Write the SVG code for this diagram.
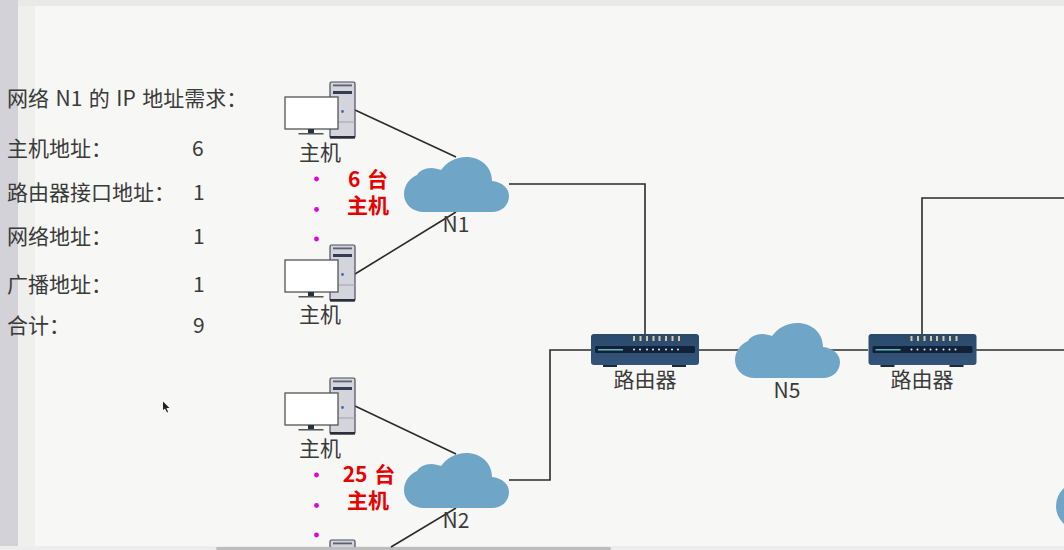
<svg xmlns="http://www.w3.org/2000/svg" xmlns:xlink="http://www.w3.org/1999/xlink" width="1064" height="550" viewBox="0 0 1064 550">
<style>
text{font-family:"Noto Sans CJK SC","Noto Sans",sans-serif;fill:#3a3a3a;font-size:21px}
.lab{text-anchor:middle}
.wide{word-spacing:1.800px}
.red{fill:#e60000;font-weight:700;text-anchor:middle;word-spacing:2px}
.conn{fill:none;stroke:#2b2b2b;stroke-width:1.6}
.cloud{fill:#6fa6c8}
</style>
<defs>
<linearGradient id="routerFill" x1="0" y1="0" x2="0" y2="1"><stop offset="0" stop-color="#2a4a6b"/><stop offset="1" stop-color="#34537a"/></linearGradient>
<path id="cloudShape" class="cloud" d="M424 212C412 212 404 204 404 194C404 185 410 178 417 175C419 171 425 168 431 168C435 168 438 169 441 170C447 162 456 157 466 157C481 157 492 167 492 181C502 182 509 188 509 196C509 205 502 212 492 212Z"/>
<g id="hostShape">
<rect x="330" y="82" width="25" height="56" rx="1.5" fill="#d3d4dc" stroke="#4a4f5c" stroke-width="1.2"/>
<rect x="330" y="136" width="25" height="2.5" fill="#2a2f3a"/>
<rect x="333" y="84.500" width="19" height="1.800" fill="#5b6170"/>
<rect x="333" y="91" width="19" height="3" fill="#343d52"/>
<line x1="330" y1="122" x2="355" y2="122" stroke="#a0a2ab" stroke-width="1"/>
<circle cx="342.500" cy="111.500" r="1.400" fill="#3a6cb5"/>
<rect x="285" y="97" width="53" height="32" fill="#fff" stroke="#555" stroke-width="1.300"/>
<rect x="308" y="129" width="6" height="4" fill="#263240"/>
<rect x="298.500" y="133" width="25" height="1.500" fill="#555"/>
</g>
<g id="routerShape">
<rect x="591" y="334" width="108" height="31" rx="3" fill="url(#routerFill)"/>
<rect x="603" y="365" width="14" height="2" fill="#1d2a3a"/>
<rect x="672" y="365" width="14" height="2" fill="#1d2a3a"/>
<rect x="595" y="346" width="100" height="7" rx="1.500" fill="#0f2238"/>
<rect x="598" y="349" width="25" height="1.500" fill="#6fb3b8"/>
<g fill="#e8e8e8"><circle cx="634" cy="349.500" r="1"/><circle cx="640" cy="349.500" r="1"/><circle cx="647" cy="349.500" r="1"/><circle cx="653" cy="349.500" r="1"/><circle cx="659" cy="349.500" r="1"/><circle cx="666" cy="349.500" r="1"/><circle cx="672" cy="349.500" r="1"/><circle cx="678" cy="349.500" r="1"/></g>
<g fill="#d9c7a5"><rect x="633" y="336" width="2" height="5"/><rect x="639.500" y="336" width="2" height="5"/><rect x="646" y="336" width="2" height="5"/><rect x="652.500" y="336" width="2" height="5"/><rect x="658.500" y="336" width="2" height="5"/><rect x="665" y="336" width="2" height="5"/><rect x="671.500" y="336" width="2" height="5"/><rect x="678" y="336" width="2" height="5"/></g>
</g>
</defs>
<rect width="1064" height="550" fill="#f7f7f5"/>
<rect width="1064" height="6" fill="#e9e9e8"/>
<rect x="18" y="6" width="17" height="544" fill="#efefee"/>
<rect width="18" height="550" fill="#d2d2d8"/>
<rect y="546" width="1064" height="4" fill="#ededed"/>
<rect x="216" y="547" width="395" height="3" rx="1.500" fill="#bdbdbd"/>
<g id="connectors" class="conn">
<path d="M355 110L456 157"/>
<path d="M355 274L456 212"/>
<path d="M509 184H645V334"/>
<path d="M355 406L456 454"/>
<path d="M391 547L456 508"/>
<path d="M509 480H550V350H591"/>
<path d="M699 350H868"/>
<path d="M922 334V198H1064"/>
<path d="M976 350H1064"/>
</g>
<g id="requirements">
<text class="wide" x="7" y="106">网络 N1 的 IP 地址需求：</text>
<text x="7" y="156">主机地址：</text><text x="192" y="156">6</text>
<text x="7" y="200">路由器接口地址：</text><text x="193" y="200">1</text>
<text x="7" y="244">网络地址：</text><text x="193" y="244">1</text>
<text x="7" y="292">广播地址：</text><text x="193" y="292">1</text>
<text x="7" y="333">合计：</text><text x="193" y="333">9</text>
</g>
<g id="host1"><use xlink:href="#hostShape" href="#hostShape"/><text class="lab" x="320" y="160">主机</text></g>
<g id="host2"><use xlink:href="#hostShape" href="#hostShape" y="163"/><text class="lab" x="320" y="322">主机</text></g>
<g id="host3"><use xlink:href="#hostShape" href="#hostShape" y="296"/><text class="lab" x="320" y="456">主机</text></g>
<svg id="host4" x="0" y="0" width="1064" height="547"><use xlink:href="#hostShape" href="#hostShape" y="458"/></svg>
<g id="dots" fill="#e000e0"><circle cx="316.500" cy="179" r="2.400"/><circle cx="316.500" cy="209.500" r="2.400"/><circle cx="316.500" cy="239" r="2.400"/><circle cx="316.500" cy="475" r="2.400"/><circle cx="316.500" cy="505.500" r="2.400"/><circle cx="316.500" cy="535" r="2.400"/></g>
<g id="count1"><text class="red"><tspan x="368" y="187">6 台</tspan><tspan x="368" y="213">主机</tspan></text></g>
<g id="count2"><text class="red"><tspan x="369" y="482">25 台</tspan><tspan x="368" y="508">主机</tspan></text></g>
<g id="N1"><use xlink:href="#cloudShape" href="#cloudShape"/><text class="lab" x="456" y="232">N1</text></g>
<g id="N2"><use xlink:href="#cloudShape" href="#cloudShape" y="296"/><text class="lab" x="456" y="528">N2</text></g>
<g id="N5"><use xlink:href="#cloudShape" href="#cloudShape" x="331" y="166"/><text class="lab" x="787" y="398">N5</text></g>
<g id="router1"><use xlink:href="#routerShape" href="#routerShape"/><text class="lab" x="645" y="387">路由器</text></g>
<g id="router2"><use xlink:href="#routerShape" href="#routerShape" x="277.500"/><text class="lab" x="922" y="387">路由器</text></g>
<g id="N-edge"><circle cx="1080" cy="506" r="24" class="cloud"/></g>
<path id="cursor" d="M163 401.500V410L165 408.500L167 412.500L168 412L166.500 408H169.500Z" fill="#222"/>
</svg>
